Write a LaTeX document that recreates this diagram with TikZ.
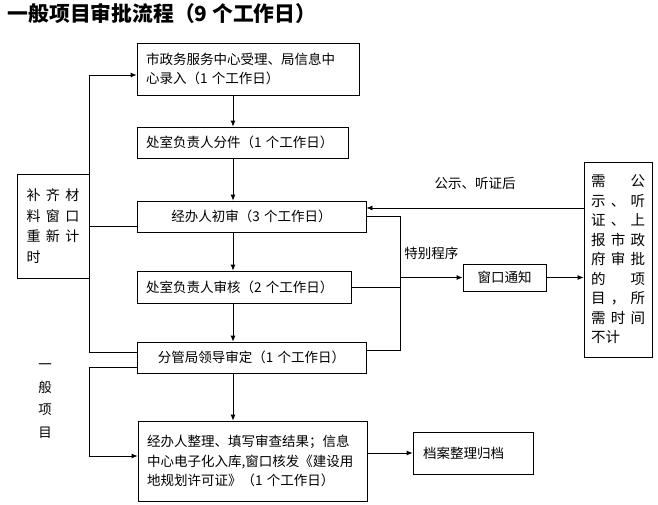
\documentclass[tikz,border=0pt]{standalone}
\usepackage{fontspec}
\setmainfont{Noto Sans CJK SC}
\usetikzlibrary{arrows.meta}
\tikzset{
	stage/.style={draw, inner xsep=9pt, inner ysep=0pt, text width=#1, align=left},
	flow/.style={-{Latex[length=6pt,width=5pt]}},
}
\newcommand{\spreadrow}[2]{\makebox[#1][s]{#2}}

\begin{document}
\begin{tikzpicture}[x=1pt, y=-1pt, line width=0.8pt, font=\fontsize{13.5}{19}\selectfont]
	\useasboundingbox (0,0) rectangle (658,504);

	\node[anchor=west, font=\fontsize{20.8}{24}\selectfont\bfseries] (title) at (4,14) {一般项目审批流程（9 个工作日）};

	% main column
	\node[stage=204pt, minimum height=52pt] (accept) at (248,69) {市政务服务中心受理、局信息中\\心录入（1 个工作日）};
	\node[stage=193pt, minimum height=31pt] (assign) at (242.5,142.5) {处室负责人分件（1 个工作日）};
	\node[stage=211pt, minimum height=31pt, align=center] (firstrev) at (251.5,216.5) {经办人初审（3 个工作日）};
	\node[stage=196pt, minimum height=32pt] (check) at (244,287) {处室负责人审核（2 个工作日）};
	\node[stage=211pt, minimum height=31pt, align=center] (approve) at (251.5,357.5) {分管局领导审定（1 个工作日）};
	\node[stage=211pt, minimum height=80pt, font=\fontsize{13.5}{19.5}\selectfont] (issue) at (252.5,461) {经办人整理、填写审查结果；信息\\中心电子化入库,窗口核发《建设用\\地规划许可证》（1 个工作日）};

	% side boxes
	\node[stage=53pt, inner xsep=9.5pt, minimum height=104pt, font=\fontsize{14}{20.5}\selectfont] (resubmit) at (53,226)
		{\spreadrow{53pt}{补\hfill 齐\hfill 材}\\\spreadrow{53pt}{料\hfill 窗\hfill 口}\\\spreadrow{53pt}{重\hfill 新\hfill 计}\\时};
	\node[stage=60pt, inner xsep=11.5pt, minimum height=27pt, align=center] (notify) at (504.5,277.5) {窗口通知};
	\node[stage=54pt, inner xsep=7pt, minimum height=195pt, font=\fontsize{14.5}{19.5}\selectfont] (public) at (618,259.5)
		{\spreadrow{54pt}{需\hfill 公}\\\spreadrow{54pt}{示\hfill 、\hfill 听}\\\spreadrow{54pt}{证\hfill 、\hfill 上}\\
		 \spreadrow{54pt}{报\hfill 市\hfill 政}\\\spreadrow{54pt}{府\hfill 审\hfill 批}\\\spreadrow{54pt}{的\hfill 项}\\
		 \spreadrow{54pt}{目\hfill ，\hfill 所}\\\spreadrow{54pt}{需\hfill 时\hfill 间}\\不计};
	\node[stage=100pt, inner xsep=10pt, minimum height=42pt] (archive) at (473,453) {档案整理归档};
	\node[align=center, font=\fontsize{13.5}{22.5}\selectfont] (general) at (45,401) {一\\般\\项\\目};

	\coordinate (spine) at (233,0);
	\coordinate (bus) at (400,0);
	\coordinate (in1) at ([yshift=-6pt]accept.west);
	\coordinate (out3) at ([yshift=-9.5pt]firstrev.west);
	\coordinate (in3) at ([yshift=8.5pt]firstrev.east);
	\coordinate (out5) at ([yshift=5.5pt]approve.west);
	\coordinate (down5) at ([yshift=-9.5pt]approve.west);
	\coordinate (out5r) at ([yshift=7.5pt]approve.east);
	\coordinate (in6) at ([yshift=5pt]issue.west);

	% downward steps
	\draw[flow] (accept.south -| spine) -- (assign.north -| spine);
	\draw[flow] (assign.south -| spine) -- (firstrev.north -| spine);
	\draw[flow] (firstrev.south -| spine) -- (check.north -| spine);
	\draw[flow] (check.south -| spine) -- (approve.north -| spine);
	\draw[flow] (approve.south -| spine) -- (issue.north -| spine);
	\draw[flow] (archive.west -| issue.east) -- (archive.west);

	% back to the window
	\draw[flow] (out5) -| (resubmit.east |- in1) -- (in1);
	\draw (out3) -- (out3 -| resubmit.east);
	\draw[flow] (down5) -| (resubmit.east |- in6) -- (in6);

	% special procedure
	\draw (firstrev.east) -| (bus |- out5r) -- (out5r);
	\draw (check.east) -- (check.east -| bus);
	\draw[flow] (notify.west -| bus) -- node[above=14pt] {特别程序} (notify.west);
	\draw[flow] (notify.east) -- (notify.east -| public.west);
	\draw[flow] (in3 -| public.west) -- node[above=15pt] {公示、听证后} (in3);
\end{tikzpicture}
\end{document}
